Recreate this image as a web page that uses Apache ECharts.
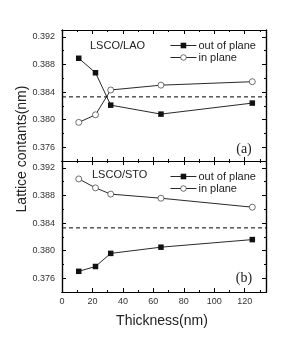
<!DOCTYPE html>
<html><head><meta charset="utf-8">
<script src="https://cdn.jsdelivr.net/npm/echarts@6/dist/echarts.min.js"></script>
<style>html,body{margin:0;padding:0;background:#fff}#c{width:296px;height:347px}</style>
</head><body><div id="c"></div>
<script>
// ---- data ----
const thickness = [11, 22, 32, 65, 125];
const laoOutOfPlane = [0.3889, 0.3868, 0.3821, 0.3808, 0.3824];
const laoInPlane = [0.3796, 0.3807, 0.3843, 0.3850, 0.3855];
const stoOutOfPlane = [0.3770, 0.3777, 0.3796, 0.3805, 0.3816];
const stoInPlane = [0.3904, 0.3891, 0.3882, 0.3876, 0.3863];
const bulkLattice = 0.3833;
const xTicks = [0, 20, 40, 60, 80, 100, 120];
const xMinorTicks = [10, 30, 50, 70, 90, 110, 130];
const yTicks = [0.376, 0.380, 0.384, 0.388, 0.392];
const yMinorTicks = [0.378, 0.382, 0.386, 0.390];
const seriesNames = ['out of plane', 'in plane'];
const panelLabels = ['LSCO/LAO', 'LSCO/STO'];
const panelTags = ['(a)', '(b)'];

const FONT = 'Liberation Sans, Arial, sans-serif';
const X_MIN = 0, X_MAX = 134, Y_MIN = 0.374, Y_MAX = 0.393;

function xAx(grid, pos, ticks, len, labels) {
  return {
    type: 'value', gridIndex: grid, position: pos, min: X_MIN, max: X_MAX,
    axisLine: { show: true, onZero: false, lineStyle: { color: '#000', width: 1.2 } },
    axisTick: { show: true, inside: true, length: len, customValues: ticks, lineStyle: { color: '#000', width: 1 } },
    axisLabel: { show: labels, customValues: xTicks, fontSize: 9, color: '#333', margin: 5, fontFamily: FONT },
    splitLine: { show: false }
  };
}
function yAx(grid, pos, ticks, len, labels) {
  return {
    type: 'value', gridIndex: grid, position: pos, min: Y_MIN, max: Y_MAX,
    axisLine: { show: true, onZero: false, lineStyle: { color: '#000', width: 1.2 } },
    axisTick: { show: true, inside: true, length: len, customValues: ticks, lineStyle: { color: '#000', width: 1 } },
    axisLabel: { show: labels, customValues: yTicks, fontSize: 9, color: '#333', margin: 7, fontFamily: FONT,
      formatter: v => v.toFixed(3) },
    splitLine: { show: false }
  };
}

const xAxes = [], yAxes = [];
[0, 1].forEach(g => {
  xAxes.push(xAx(g, 'bottom', xTicks, 4, g === 1));   // index g*4
  xAxes.push(xAx(g, 'top', xTicks, 4, false));
  xAxes.push(xAx(g, 'bottom', xMinorTicks, 2, false));
  xAxes.push(xAx(g, 'top', xMinorTicks, 2, false));
  yAxes.push(yAx(g, 'left', yTicks, 4, true));        // index g*4
  yAxes.push(yAx(g, 'right', yTicks, 4, false));
  yAxes.push(yAx(g, 'left', yMinorTicks, 2, false));
  yAxes.push(yAx(g, 'right', yMinorTicks, 2, false));
});

function pts(ys) { return thickness.map((x, i) => [x, ys[i]]); }

function mkSeries(g, name, ys, filled) {
  return {
    name: name, type: 'line', xAxisIndex: g * 4, yAxisIndex: g * 4, data: pts(ys),
    symbol: filled ? 'rect' : 'circle', symbolSize: filled ? 5.5 : 6,
    lineStyle: { color: '#111', width: 0.9 },
    itemStyle: filled ? { color: '#111', borderWidth: 0 }
                      : { color: '#fff', borderColor: '#333', borderWidth: 0.7 },
    z: filled ? 4 : 3, silent: true
  };
}
function mkBulk(g) {
  return {
    name: 'bulk', type: 'line', xAxisIndex: g * 4, yAxisIndex: g * 4,
    data: [[X_MIN, bulkLattice], [X_MAX, bulkLattice]],
    symbol: 'none', silent: true, z: 2,
    lineStyle: { type: [4, 3], color: '#000', width: 1 }
  };
}

const series = [
  mkBulk(0), mkBulk(1),
  mkSeries(0, seriesNames[0], laoOutOfPlane, true),
  mkSeries(0, seriesNames[1], laoInPlane, false),
  mkSeries(1, seriesNames[0], stoOutOfPlane, true),
  mkSeries(1, seriesNames[1], stoInPlane, false)
];

function legend(top) {
  return {
    left: 170, top: top, orient: 'vertical', itemWidth: 26, itemHeight: 7, itemGap: 1,
    data: seriesNames, selectedMode: false, padding: 0,
    itemStyle: { borderWidth: 0.7 },
    lineStyle: { width: 0.9 },
    textStyle: { fontSize: 11, color: '#222', fontFamily: FONT, padding: [0, 0, 0, -3] }
  };
}

const txt = (x, y, text, font, extra) => ({
  type: 'text', x: x, y: y,
  style: Object.assign({ text: text, font: font, fill: '#222', verticalAlign: 'middle' }, extra || {})
});

const chart = echarts.init(document.getElementById('c'), null, { renderer: 'canvas' });
chart.setOption({
  animation: false,
  backgroundColor: '#fff',
  grid: [
    { left: 62, top: 30, width: 204, height: 131 },
    { left: 62, top: 161, width: 204, height: 131 }
  ],
  xAxis: xAxes,
  yAxis: yAxes,
  legend: [legend(40), legend(171)],
  series: series,
  graphic: [
    txt(90, 46, panelLabels[0], '11px ' + FONT, { align: 'left' }),
    txt(92, 175, panelLabels[1], '11px ' + FONT, { align: 'left' }),
    txt(244, 149, panelTags[0], '14px Liberation Serif, Times New Roman, serif', { align: 'center' }),
    txt(244, 278, panelTags[1], '14px Liberation Serif, Times New Roman, serif', { align: 'center' }),
    txt(162, 321, 'Thickness(nm)', '14px ' + FONT, { align: 'center' }),
    { type: 'text', x: 22, y: 149, rotation: Math.PI / 2,
      style: { text: 'Lattice contants(nm)', font: '14px ' + FONT, fill: '#222', align: 'center', verticalAlign: 'middle' } }
  ]
});
</script></body></html>
